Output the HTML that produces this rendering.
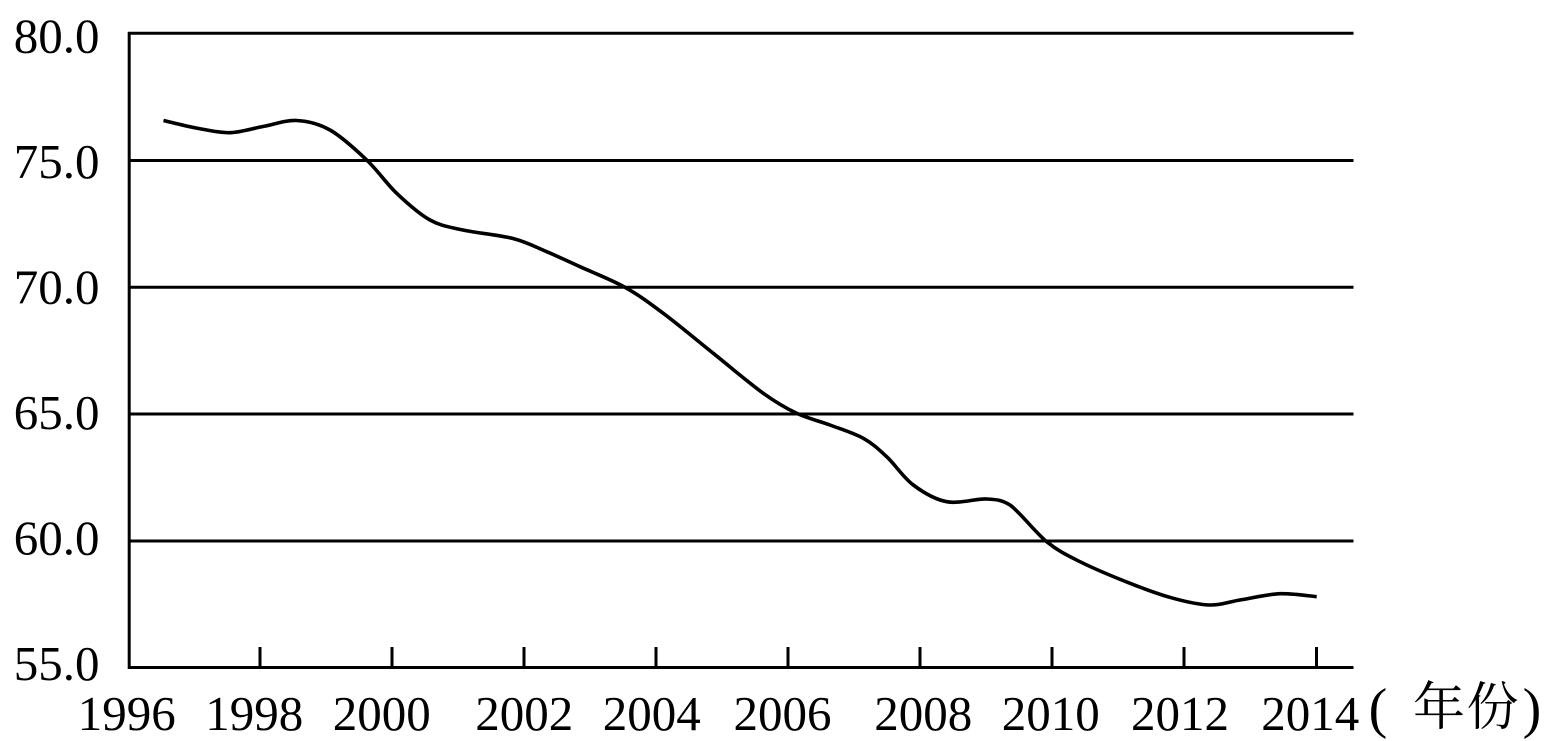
<!DOCTYPE html>
<html>
<head>
<meta charset="utf-8">
<style>
html,body{margin:0;padding:0;background:#fff;}
svg{display:block;}
</style>
</head>
<body>
<svg width="1544" height="741" viewBox="0 0 1544 741" xmlns="http://www.w3.org/2000/svg">
<rect x="0" y="0" width="1544" height="741" fill="#fff"/>
<g stroke="#000" stroke-width="3" fill="none">
<line x1="128" y1="33.3" x2="1353.5" y2="33.3"/>
<line x1="128" y1="160.5" x2="1353.5" y2="160.5"/>
<line x1="128" y1="287.2" x2="1353.5" y2="287.2"/>
<line x1="128" y1="414" x2="1353.5" y2="414"/>
<line x1="128" y1="541" x2="1353.5" y2="541"/>
<line x1="128" y1="667.5" x2="1353.5" y2="667.5"/>
<line x1="129.2" y1="32" x2="129.2" y2="669"/>
<line x1="260" y1="647" x2="260" y2="667.5"/>
<line x1="392" y1="647" x2="392" y2="667.5"/>
<line x1="524" y1="647" x2="524" y2="667.5"/>
<line x1="656" y1="647" x2="656" y2="667.5"/>
<line x1="788" y1="647" x2="788" y2="667.5"/>
<line x1="920" y1="647" x2="920" y2="667.5"/>
<line x1="1052" y1="647" x2="1052" y2="667.5"/>
<line x1="1184" y1="647" x2="1184" y2="667.5"/>
<line x1="1316.5" y1="647" x2="1316.5" y2="667.5"/>
</g>
<path fill="none" stroke="#000" stroke-width="3.6" stroke-linejoin="round" d="M163.5,120.5
C168.92,121.75 184.92,125.97 196,128
C207.08,130.03 218.83,132.95 230,132.7
C241.17,132.45 251.88,128.53 263,126.5
C274.12,124.47 285.53,119.92 296.7,120.5
C307.87,121.08 318.33,123.42 330,130
C341.67,136.58 355.58,149.45 366.7,160
C377.82,170.55 386.15,183.3 396.7,193.3
C407.25,203.3 418.95,213.88 430,220
C441.05,226.12 449.17,226.92 463,230
C476.83,233.08 499.05,234.88 513,238.5
C526.95,242.12 535.53,247 546.7,251.7
C557.87,256.4 566.95,260.77 580,266.7
C593.05,272.63 611.12,279.53 625,287.3
C638.88,295.07 648.58,302.3 663.3,313.3
C678.02,324.3 696.63,339.97 713.3,353.3
C729.97,366.63 749.4,383.3 763.3,393.3
C777.2,403.3 785.58,408.02 796.7,413.3
C807.82,418.58 818.9,420.83 830,425
C841.1,429.17 853.85,433.02 863.3,438.3
C872.75,443.58 878.37,448.92 886.7,456.7
C895.03,464.48 903.3,477.5 913.3,485
C923.3,492.5 934.47,499.37 946.7,501.7
C958.93,504.03 976.15,498.45 986.7,499
C997.25,499.55 1002,500 1010,505
C1020,512.12 1035.03,532.25 1046.7,541.7
C1058.37,551.15 1066.12,554.77 1080,561.7
C1093.88,568.63 1114.45,577.2 1130,583.3
C1145.55,589.4 1159.97,594.68 1173.3,598.3
C1186.63,601.92 1198.88,604.72 1210,605
C1221.12,605.28 1228.33,601.88 1240,600
C1251.67,598.12 1267.22,594.25 1280,593.7
C1292.78,593.15 1310.58,596.2 1316.7,596.7"/>
<g font-family="'Liberation Serif', 'Times New Roman', serif" font-size="49" fill="#000" text-anchor="end">
<text x="99.5" y="52.3">80.0</text>
<text x="99.5" y="177.8">75.0</text>
<text x="99.5" y="303.3">70.0</text>
<text x="99.5" y="428.8">65.0</text>
<text x="99.5" y="554.3">60.0</text>
<text x="99.5" y="679.8">55.0</text>
</g>
<g font-family="'Liberation Serif', 'Times New Roman', serif" font-size="49" fill="#000" text-anchor="middle">
<text x="126.7" y="730">1996</text>
<text x="254.2" y="730">1998</text>
<text x="381.7" y="730">2000</text>
<text x="524.2" y="730">2002</text>
<text x="651.7" y="730">2004</text>
<text x="782.5" y="730">2006</text>
<text x="923.3" y="730">2008</text>
<text x="1050.8" y="730">2010</text>
<text x="1180" y="730">2012</text>
<text x="1310.3" y="730">2014</text>
</g>
<g font-family="'Liberation Serif', 'Times New Roman', serif" font-size="56" fill="#000" text-anchor="middle">
<text x="1378" y="727">(</text>
<text x="1532" y="727">)</text>
</g>
<g font-family="'Liberation Serif', 'Noto Serif CJK SC', 'Noto Sans CJK SC', serif" font-size="52" fill="#000" text-anchor="middle">
<text x="1439" y="725">年</text>
<text x="1492.5" y="725">份</text>
</g>
</svg>
</body>
</html>
